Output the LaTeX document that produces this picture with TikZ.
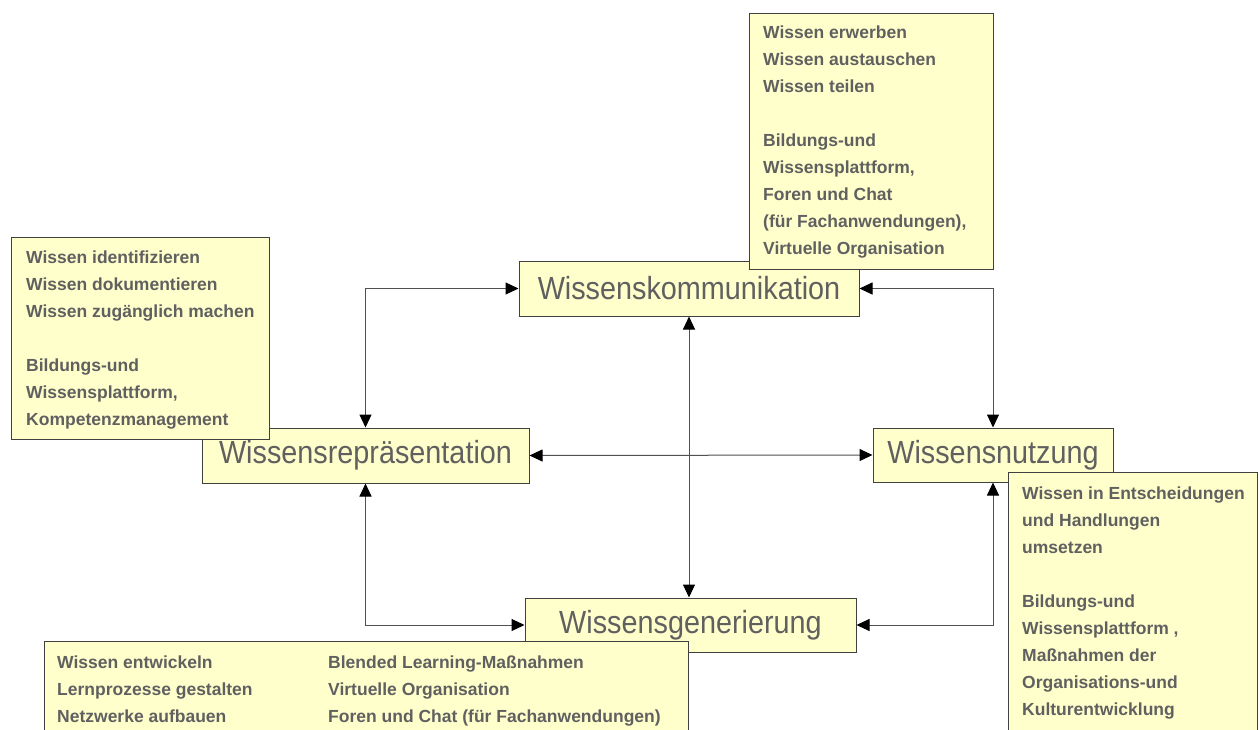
\documentclass[tikz,border=0pt]{standalone}
\usepackage{fontspec}
\setmainfont{Liberation Sans}
\newfontfamily\labfont[FakeStretch=0.9]{Liberation Sans}
\usetikzlibrary{arrows.meta}
\definecolor{boxfill}{HTML}{FFFFCC}
\definecolor{boxline}{HTML}{404040}
\definecolor{txtgray}{HTML}{606060}
\definecolor{conngray}{HTML}{505050}
\tikzset{
 mainbox/.style={draw=boxline, line width=1pt, fill=boxfill, inner sep=0pt, text=txtgray,
   font=\labfont\fontsize{32}{36}\selectfont},
 descbox/.style={draw=boxline, line width=1pt, fill=boxfill, inner sep=0pt, anchor=north west},
 desctext/.style={anchor=north west, inner sep=0pt, text=txtgray, align=left,
   font=\bfseries\fontsize{17.5}{27}\selectfont},
 tipx/.tip={Triangle[length=13pt,width=12pt,color=black]},
 connline/.style={draw=conngray, line width=1pt, tipx-tipx},
}
\begin{document}
\begin{tikzpicture}[x=1pt,y=-1pt]
\useasboundingbox (0,0) rectangle (1260,729);
% main boxes
\node[mainbox, minimum width=340pt, minimum height=55pt] (komm) at (689,288.5) {Wissenskommunikation};
\node[mainbox, minimum width=327pt, minimum height=55pt] (repr) at (365.5,455.5) {Wissensrepräsentation};
\node[mainbox, minimum width=240pt, minimum height=54pt] (nutz) at (993,455) {Wissensnutzung};
\node[mainbox, minimum width=331pt, minimum height=54pt] (gen) at (690.5,625) {Wissensgenerierung};
% connectors
\draw[connline] (repr.north) |- (komm.west);
\draw[connline] (nutz.north) |- (komm.east);
\draw[connline] (repr.east) -- (nutz.west);
\draw[connline] (komm.south) -- (komm.south |- gen.north);
\draw[connline] (repr.south) |- (gen.west);
\draw[connline] (nutz.south) |- (gen.east);
% description boxes
\node[descbox, minimum width=244pt, minimum height=256pt] (kbox) at (749,13) {};
\node[desctext] (ktext) at (763,26) {Wissen erwerben\\Wissen austauschen\\Wissen teilen\\[27pt]Bildungs-und\\Wissensplattform,\\Foren und Chat\\(für Fachanwendungen),\\Virtuelle Organisation};
\node[descbox, minimum width=258pt, minimum height=202pt] (rbox) at (11,237) {};
\node[desctext] (rtext) at (26,251) {Wissen identifizieren\\Wissen dokumentieren\\Wissen zugänglich machen\\[27pt]Bildungs-und\\Wissensplattform,\\Kompetenzmanagement};
\node[descbox, minimum width=249pt, minimum height=262pt] (nbox) at (1008,472) {};
\node[desctext] (ntext) at (1022,487) {Wissen in Entscheidungen\\und Handlungen\\umsetzen\\[27pt]Bildungs-und\\Wissensplattform ,\\Maßnahmen der\\Organisations-und\\Kulturentwicklung};
\node[descbox, minimum width=644pt, minimum height=92pt] (gbox) at (44,641) {};
\node[desctext] (gtexta) at (57,656) {Wissen entwickeln\\Lernprozesse gestalten\\Netzwerke aufbauen};
\node[desctext] (gtextb) at (328,656) {Blended Learning-Maßnahmen\\Virtuelle Organisation\\Foren und Chat (für Fachanwendungen)};
\end{tikzpicture}
\end{document}
